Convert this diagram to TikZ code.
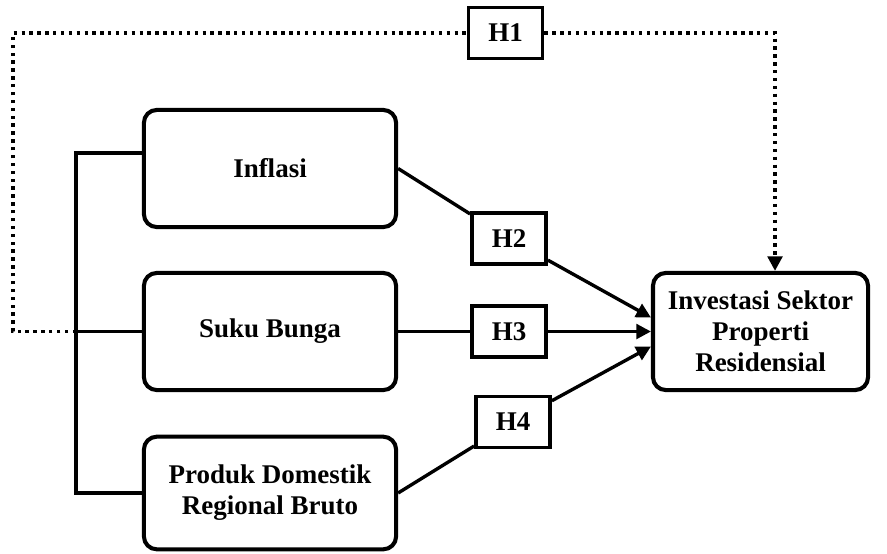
\documentclass[tikz,border=0pt]{standalone}
\usepackage{fontspec}
\setmainfont{Liberation Serif}
\usetikzlibrary{arrows.meta,calc}
\tikzset{
  varbox/.style={draw,line width=1.8pt,rounded corners=2mm,minimum width=39.4mm,minimum height=18.3mm,align=center,font=\bfseries\fontsize{12}{13.8}\selectfont},
  hbox/.style={draw,fill=white,line width=1.6pt,minimum width=11.6mm,minimum height=8mm,font=\bfseries\fontsize{12}{13.8}\selectfont},
  link/.style={line width=1.5pt},
  dotlink/.style={line width=1.6pt,dash pattern=on 1.5pt off 2pt},
  tip/.style={-{Triangle[length=6.5pt,width=6.5pt]}}
}
\begin{document}
\begin{tikzpicture}[x=1.5625mm,y=-1.5625mm]
\useasboundingbox (0,0) rectangle (88.7,55.3);
% variabel
\node[varbox] (inf) at (27,16.85) {Inflasi};
\node[varbox] (suku) at (27,33.15) {Suku Bunga};
\node[varbox,minimum height=17.6mm] (pdrb) at (27,49.3) {Produk Domestik\\Regional Bruto};
\node[varbox,minimum width=33.6mm] (inv) at (76.05,33.15) {Investasi Sektor\\Properti\\Residensial};
% hipotesis
\node[hbox] (h1) at (50.55,3.3) {H1};
\node[hbox] (h2) at (50.9,23.85) {H2};
\node[hbox] (h3) at (50.9,33.15) {H3};
\node[hbox] (h4) at (51.3,42.2) {H4};
% garis bersama X1, X2, X3
\coordinate (ti) at (7.6,15.3);
\coordinate (tp) at (7.6,49.3);
\draw[link] (inf.west |- ti) -- (ti) -- (tp) -- (pdrb.west);
\draw[link] (suku.west) -- (suku.west -| ti);
% H1 simultan
\coordinate (dl) at (1.3,3.3);
\coordinate (dr) at (77.5,3.3);
\draw[dotlink] (suku.west -| ti) -- (suku.west -| dl) -- (dl) -- (h1);
\draw[dotlink,tip] (h1) -- (dr) -- (dr |- inv.north);
% H2--H4 parsial
\draw[link] (inf.east) -- (h2);
\draw[link,tip] (h2) -- ($(inv.west)+(0,-1.4)$);
\draw[link] (suku.east) -- (h3);
\draw[link,tip] (h3) -- (inv.west);
\draw[link] (pdrb.east) -- (h4);
\draw[link,tip] (h4) -- ($(inv.west)+(0,1.5)$);
\end{tikzpicture}
\end{document}
